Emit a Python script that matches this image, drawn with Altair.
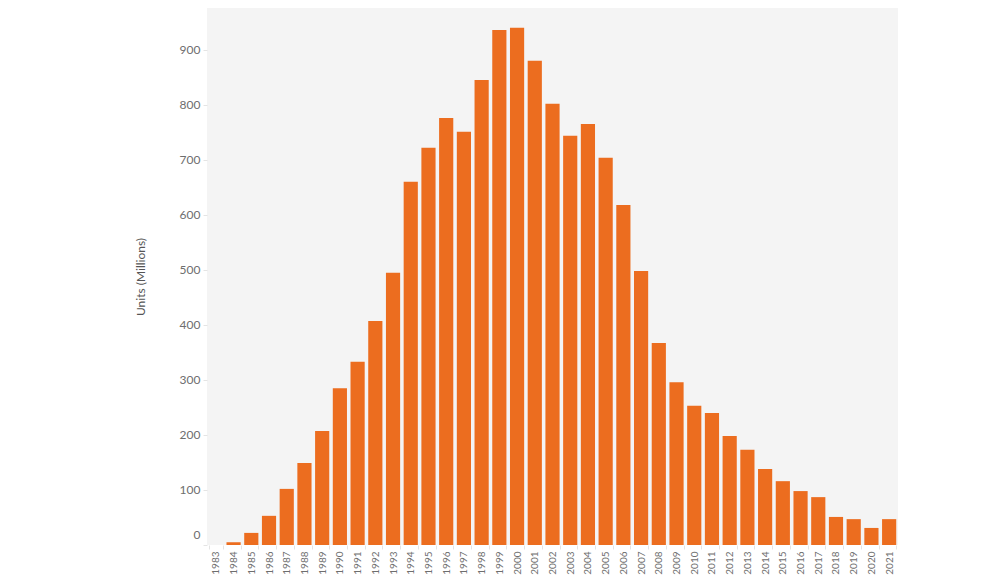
import altair as alt
import pandas as pd

years = [str(y) for y in range(1983, 2022)]
units = [0, 5, 22, 53, 102, 149, 207, 285, 333, 407, 495, 660, 722, 776, 751, 845, 936, 940,
         880, 802, 744, 765, 704, 618, 498, 367, 296, 253, 240, 198, 173, 138, 116, 98, 87,
         51, 47, 31, 47]

df = pd.DataFrame({"Year": years, "Units": units})

label_color = "#6e6e6e"
font = "Lato"

chart = alt.Chart(df).mark_bar(color="#EC6D1F").encode(
    x=alt.X("Year:N", sort=years, title=None,
            scale=alt.Scale(paddingInner=0.2, paddingOuter=0.1),
            axis=alt.Axis(labelAngle=-90, labelFontSize=10, labelColor=label_color,
                          labelFont=font, labelPadding=2, tickBand="extent",
                          tickColor="#e4e4e4", tickSize=4, domain=False, grid=False)),
    y=alt.Y("Units:Q", title="Units (Millions)",
            scale=alt.Scale(domain=[0, 976], nice=False),
            axis=alt.Axis(values=[0, 100, 200, 300, 400, 500, 600, 700, 800, 900],
                          labelFontSize=12, labelColor=label_color, labelFont=font,
                          labelPadding=3, tickColor="#e4e4e4", tickSize=4,
                          labelFlush=True, labelFlushOffset=-4,
                          domain=False, grid=False,
                          titleFont=font, titleFontSize=12, titleFontWeight="normal",
                          titleColor="#555555", titlePadding=32)),
).properties(
    width=691,
    height=537,
    autosize=alt.AutoSizeParams(type="none"),
    padding={"left": 199, "top": 0, "right": 0, "bottom": 40},
).configure_view(
    fill="#f4f4f4", stroke=None
)

chart.save("out.html", embed_options={"renderer": "svg", "actions": False})
